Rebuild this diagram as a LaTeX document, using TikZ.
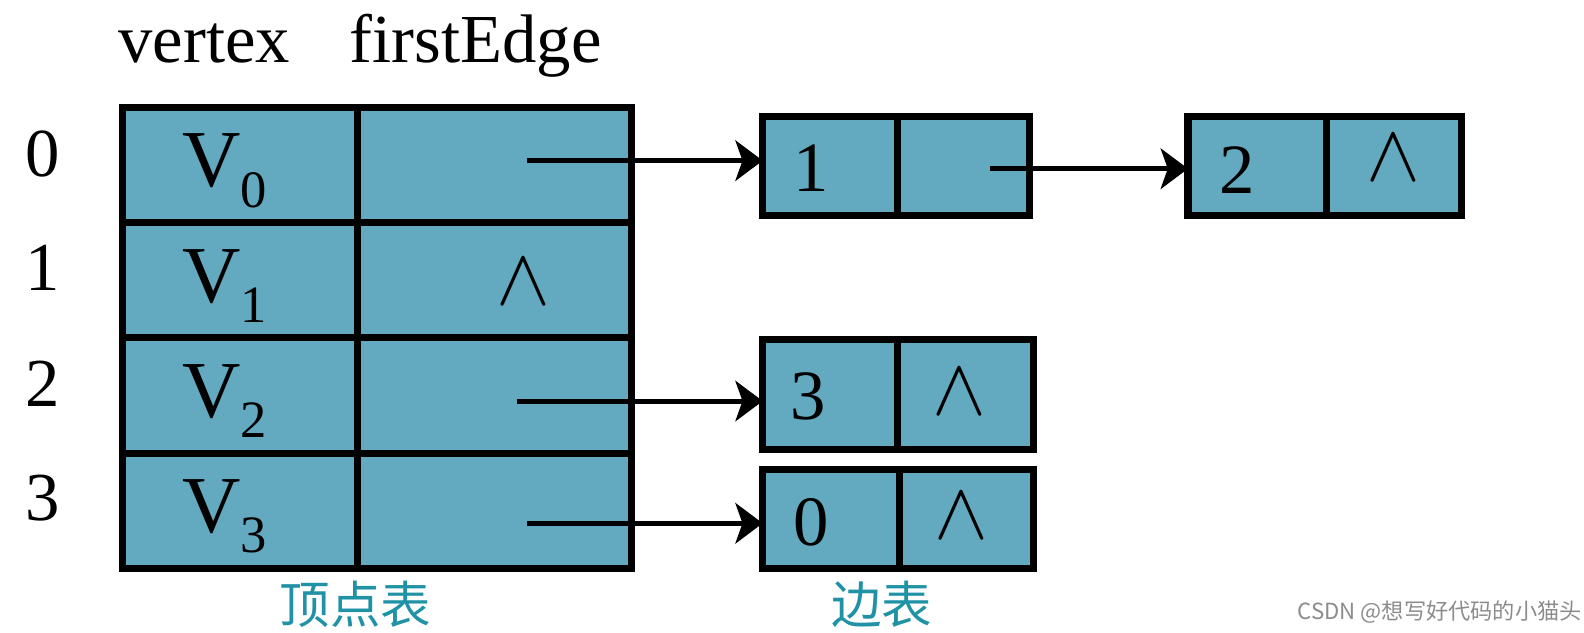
\documentclass[tikz,border=0pt]{standalone}
\usepackage{graphicx}
\usepackage{fontspec}
\setmainfont{Liberation Serif}
\newfontfamily\cjk{Noto Sans CJK SC}
\usetikzlibrary{arrows.meta}
\definecolor{cellblue}{RGB}{99,169,192}
\definecolor{labteal}{RGB}{32,146,165}
\definecolor{wmgray}{RGB}{140,140,140}
\newcommand{\vsub}[1]{V\raisebox{-20pt}{\fontsize{52}{52}\selectfont #1}}
\newcommand{\nilsym}{\scalebox{8}{$\wedge$}}
\begin{document}
\begin{tikzpicture}[x=1pt,y=-1pt,
  cell/.style={draw=black, line width=7pt, fill=cellblue, rectangle, inner sep=0pt, outer sep=0pt},
  lnk/.style={line width=5pt, -{Stealth[length=27pt,width=40pt,inset=7pt]}},
  big/.style={font=\fontsize{68}{68}\selectfont, inner sep=0pt, anchor=base},
  dig/.style={font=\fontsize{70}{70}\selectfont, inner sep=0pt, anchor=base},
  vtx/.style={font=\fontsize{80}{80}\selectfont, inner sep=0pt, anchor=base west},
  nil/.style={inner sep=0pt},
  captxt/.style={font=\cjk\fontsize{50}{50}\selectfont, text=labteal, inner sep=0pt},
]
\useasboundingbox (0,0) rectangle (1568,626.6);
% headers
\node[big, anchor=base west] (hv) at (117,62) {vertex};
\node[big, anchor=base west] (hf) at (346,62) {firstEdge};
% row indices
\node[big] (r0) at (42,175) {0};
\node[big] (r1) at (42,288) {1};
\node[big] (r2) at (42,402) {2};
\node[big] (r3) at (42,515) {3};
% vertex table
\foreach \i/\y in {0/163.125,1/277.375,2/391.625,3/505.875}{
  \node[cell, minimum width=233pt, minimum height=114.25pt] (v\i) at (237.5,\y) {};
  \node[cell, minimum width=271pt, minimum height=114.25pt] (f\i) at (489.5,\y) {};
}
\node[vtx] (tv0) at (180,185) {\vsub{0}};
\node[vtx] (tv1) at (180,299) {\vsub{1}};
\node[vtx] (tv2) at (180,413) {\vsub{2}};
\node[vtx] (tv3) at (180,527) {\vsub{3}};
\node[nil] (n1) at (518,279) {\nilsym};
% edge nodes
\node[cell, minimum width=133pt, minimum height=98pt] (e1a) at (821.5,164) {};
\node[cell, minimum width=131pt, minimum height=98pt] (e1b) at (953.5,164) {};
\node[cell, minimum width=137pt, minimum height=98pt] (e2a) at (1244.5,164) {};
\node[cell, minimum width=134pt, minimum height=98pt] (e2b) at (1380,164) {};
\node[cell, minimum width=133pt, minimum height=109pt] (e3a) at (821.5,390.5) {};
\node[cell, minimum width=135pt, minimum height=109pt] (e3b) at (955.5,390.5) {};
\node[cell, minimum width=135pt, minimum height=98pt] (e0a) at (822.5,514) {};
\node[cell, minimum width=133pt, minimum height=98pt] (e0b) at (956.5,514) {};
\node[dig] (d1) at (803,190) {1};
\node[dig] (d2) at (1225,192) {2};
\node[dig] (d3) at (800,415) {3};
\node[dig] (d0) at (803,540) {0};
\node[nil] (n2) at (1379,156) {\nilsym};
\node[nil] (n3) at (950,388) {\nilsym};
\node[nil] (n0) at (952,511) {\nilsym};
% arrows
\coordinate (s0) at (522,159);
\coordinate (s1) at (980,167);
\coordinate (s2) at (512,397);
\coordinate (s3) at (522,518);
\draw[lnk] (s0) -- (s0 -| e1a.west);
\draw[lnk] (s1) -- (s1 -| e2a.west);
\draw[lnk] (s2) -- (s2 -| e3a.west);
\draw[lnk] (s3) -- (s3 -| e0a.west);
% captions
\node[captxt] (c1) at (352,598) {顶点表};
\node[captxt] (c2) at (873,598) {边表};
\node[font=\cjk\fontsize{22}{22}\selectfont, text=wmgray, inner sep=0pt, anchor=east] (wm) at (1566,606) {CSDN @想写好代码的小猫头};
\end{tikzpicture}
\end{document}
